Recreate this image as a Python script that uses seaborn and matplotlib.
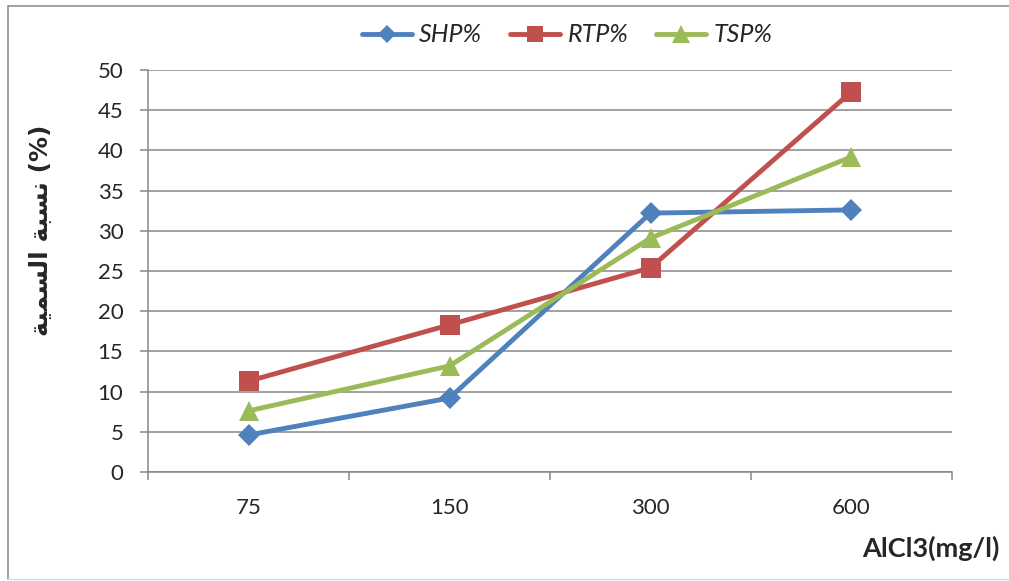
import matplotlib
matplotlib.use("Agg")
import matplotlib.pyplot as plt
from matplotlib.lines import Line2D
import seaborn as sns
import pandas as pd

# AlCl3 concentrations (mg/l) and toxicity percentages per index
doses = ["75", "150", "300", "600"]
shp = [4.6, 9.2, 32.2, 32.6]
rtp = [11.3, 18.3, 25.4, 47.3]
tsp = [7.6, 13.2, 29.1, 39.2]
series_names = ["SHP%", "RTP%", "TSP%"]
y_ticks = list(range(0, 55, 5))

colors = ["#4F81BD", "#C0504D", "#9BBB59"]
markers = ["D", "s", "^"]
marker_sizes = [11, 14, 15]

# Arabic axis title, written in visual order with presentation forms
# so it renders joined without a shaping engine
y_title = "\uFE94\uFEF4\uFEE4\uFEB4\uFEDF\uFE8D \uFE94\uFE92\uFEB4\uFEE7 (%)"

df = pd.DataFrame({
    "dose": doses * 3,
    "value": shp + rtp + tsp,
    "series": [s for s in series_names for _ in doses],
})

sns.set_style("white")
plt.rcParams["font.family"] = ["Lato", "DejaVu Sans"]

W, H = 1009, 581
fig = plt.figure(figsize=(W / 100, H / 100), dpi=100)
ax = fig.add_axes([148 / W, 1 - 472 / H, (952 - 148) / W, (472 - 70) / H])

grid_c = "#878787"
ax.set_ylim(0, 50)
ax.set_yticks(y_ticks)
ax.yaxis.grid(True, color=grid_c, linewidth=1.1)
ax.set_axisbelow(True)

for name, c, m, ms in zip(series_names, colors, markers, marker_sizes):
    sub = df[df["series"] == name]
    sns.pointplot(data=sub, x="dose", y="value", order=doses, color=c,
                  markers=m, linestyles="-", errorbar=None, ax=ax,
                  markersize=ms, linewidth=3.5, markeredgewidth=0)

ax.set_xlim(-0.5, 3.5)
ax.set_ylim(0, 50)
ax.set_xlabel("")
ax.set_ylabel("")

for side in ["top", "right"]:
    ax.spines[side].set_visible(False)
for side in ["left", "bottom"]:
    ax.spines[side].set_color(grid_c)
    ax.spines[side].set_linewidth(1.1)

ax.tick_params(axis="y", which="major", direction="out", length=5.8, width=1.1,
               color=grid_c, pad=12, labelsize=16, left=True)
ax.set_xticks(range(len(doses)))
ax.set_xticklabels(doses)
ax.set_xticks([i - 0.5 for i in range(len(doses) + 1)], minor=True)
ax.tick_params(axis="x", which="major", length=0, pad=19, labelsize=16)
ax.tick_params(axis="x", which="minor", direction="out", length=5.8, width=1.1,
               color=grid_c, bottom=True)

# Axis titles
fig.text(41 / W, 1 - 230 / H, y_title, rotation=90, ha="center", va="center",
         fontsize=18, fontweight="bold", family="DejaVu Sans")
fig.text(1000 / W, 1 - 548 / H, "AlCl3(mg/l)", ha="right", va="center",
         fontsize=19.5, fontweight="bold")

# Legend across the top
handles = [Line2D([], [], color=c, marker=m, markersize=ms * 0.85, linewidth=3.5,
                  markeredgewidth=0)
           for c, m, ms in zip(colors, markers, marker_sizes)]
fig.legend(handles, series_names, loc="center", bbox_to_anchor=(567 / W, 1 - 35 / H),
           ncol=3, frameon=False, handlelength=2.0, handletextpad=0.3,
           columnspacing=1.1, prop={"style": "italic", "size": 18})

# Outer chart border
border = dict(color=grid_c, linewidth=1.1, transform=fig.transFigure)
fig.add_artist(Line2D([8 / W, 8 / W], [1 - 6 / H, 1 - 579 / H], **border))
fig.add_artist(Line2D([8 / W, 1.0], [1 - 6 / H, 1 - 6 / H], **border))
fig.add_artist(Line2D([8 / W, 1.0], [1 - 579 / H, 1 - 579 / H],
                      color="#d9d9d9", linewidth=1.0, transform=fig.transFigure))

fig.savefig("out.png", dpi=100)
